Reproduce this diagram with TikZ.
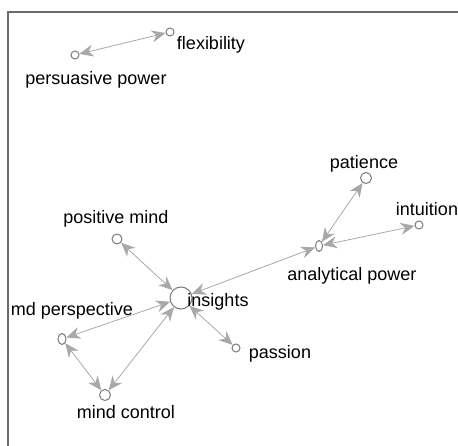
\documentclass[tikz,border=0pt]{standalone}
\usepackage{fontspec}
\setmainfont{Liberation Sans}
\usetikzlibrary{arrows.meta,shapes.geometric}

\definecolor{linkgray}{HTML}{A8A8A8}
\definecolor{ringgray}{HTML}{7A7A7A}
\definecolor{framegray}{HTML}{6A6A6A}

\begin{document}
\begin{tikzpicture}[x=1pt,y=-1pt]
  \def\fs{18}

\tikzstyle{vertex}=[circle,draw=ringgray,fill=white,line width=1pt,inner sep=0pt,minimum size=8pt]
\tikzstyle{oval}=[ellipse,draw=ringgray,fill=white,line width=1pt,inner sep=0pt,minimum width=7pt,minimum height=11pt]
\tikzstyle{word}=[inner sep=0pt,font=\fontsize{\fs}{20}\selectfont]
\tikzstyle{link}=[draw=linkgray,line width=0.8pt,{Stealth[length=14pt,width=12pt,inset=4.5pt,fill=linkgray]}-{Stealth[length=14pt,width=12pt,inset=4.5pt,fill=linkgray]}]

\useasboundingbox (0,0) rectangle (458,446);
\draw[framegray,line width=1.4pt] (8,446) -- (8,12) -- (458,12);

% top pair
\node[vertex] (P1) at (75,55) {};
\node[word] (L1) at (96,80) {persuasive power};
\node[vertex] (P2) at (170,32) {};
\node[word] (L2) at (211,45) {flexibility};
\draw[link] (P1) -- (P2);

% analytical power cluster
\node[vertex,minimum size=11pt] (P3) at (366,178) {};
\node[word] (L3) at (364,164) {patience};
\node[vertex] (P4) at (419,225) {};
\node[word] (L4) at (427,209) {intuition};
\node[oval] (P5) at (319,246) {};
\node[word] (L5) at (352,276) {analytical power};
\draw[link] (P5) -- (P3);
\draw[link] (P5) -- (P4);

% insights cluster
\node[vertex,minimum size=22pt] (P6) at (181,298) {};
\node[word] (L6) at (218,302) {insights};
\node[vertex,minimum size=10pt] (P7) at (117,239) {};
\node[word] (L7) at (116,219) {positive mind};
\node[oval,minimum width=8pt] (P8) at (62,339) {};
\node[word] (L8) at (72,311) {md perspective};
\node[vertex,minimum size=11pt] (P9) at (105,395) {};
\node[word] (L9) at (126,412) {mind control};
\node[vertex] (P10) at (236,348) {};
\node[word] (L10) at (280,354) {passion};
\draw[link] (P6) -- (P5);
\draw[link] (P6) -- (P7);
\draw[link] (P6) -- (P8);
\draw[link] (P6) -- (P9);
\draw[link] (P6) -- (P10);
\draw[link] (P8) -- (P9);
\end{tikzpicture}
\end{document}
